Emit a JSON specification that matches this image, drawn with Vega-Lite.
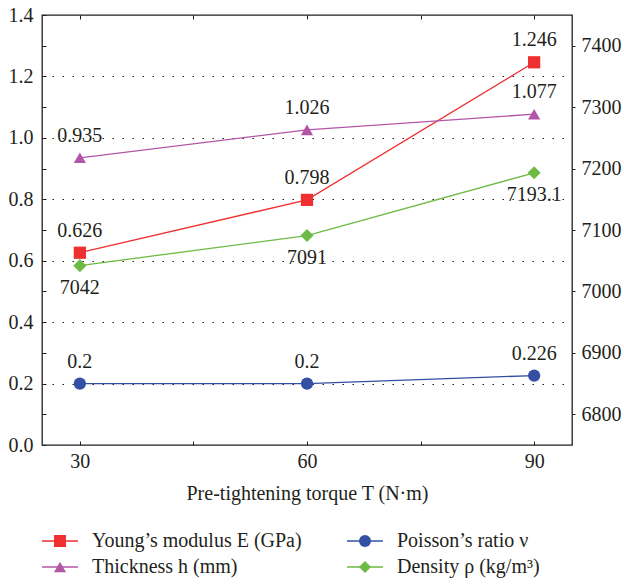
{
  "$schema": "https://vega.github.io/schema/vega-lite/v6.json",
  "width": 530,
  "height": 430,
  "autosize": {"type": "none"},
  "padding": {"left": 42, "top": 15, "right": 52, "bottom": 139},
  "background": "white",
  "config": {
    "font": "Liberation Serif",
    "view": {"stroke": "#231f20", "strokeWidth": 1.3},
    "text": {"font": "Liberation Serif"},
    "axis": {
      "labelFont": "Liberation Serif",
      "labelFontSize": 20,
      "labelColor": "#231f20",
      "titleFont": "Liberation Serif",
      "titleFontSize": 20,
      "titleFontWeight": "normal",
      "titleColor": "#231f20",
      "tickColor": "#231f20",
      "domain": false
    },
    "legend": {
      "labelFont": "Liberation Serif",
      "labelFontSize": 20,
      "labelColor": "#231f20",
      "labelLimit": 400,
      "padding": 0
    }
  },
  "data": {
    "values": [
      {"T": 30, "series": "Young’s modulus E (GPa)", "value": 0.626},
      {"T": 60, "series": "Young’s modulus E (GPa)", "value": 0.798},
      {"T": 90, "series": "Young’s modulus E (GPa)", "value": 1.246},
      {"T": 30, "series": "Thickness h (mm)", "value": 0.935},
      {"T": 60, "series": "Thickness h (mm)", "value": 1.026},
      {"T": 90, "series": "Thickness h (mm)", "value": 1.077},
      {"T": 30, "series": "Poisson’s ratio ν", "value": 0.2},
      {"T": 60, "series": "Poisson’s ratio ν", "value": 0.2},
      {"T": 90, "series": "Poisson’s ratio ν", "value": 0.226},
      {"T": 30, "series": "Density ρ (kg/m³)", "value": 7042},
      {"T": 60, "series": "Density ρ (kg/m³)", "value": 7091},
      {"T": 90, "series": "Density ρ (kg/m³)", "value": 7193.1}
    ]
  },
  "layer": [
    {
      "transform": [{"filter": "datum.series !== 'Density ρ (kg/m³)'"}],
      "encoding": {
        "x": {
          "field": "T", "type": "quantitative",
          "scale": {"domain": [25, 95], "nice": false, "zero": false},
          "axis": {
            "values": [30, 45, 60, 75, 90],
            "labelExpr": "datum.value % 30 == 0 ? datum.label : ''",
            "grid": false,
            "tickSize": -4,
            "labelPadding": 10,
            "title": "Pre-tightening torque T  (N·m)",
            "titlePadding": 12
          }
        },
        "y": {
          "field": "value", "type": "quantitative",
          "scale": {"domain": [0, 1.4], "nice": false, "zero": false},
          "axis": {
            "values": [0, 0.1, 0.2, 0.3, 0.4, 0.5, 0.6, 0.7, 0.8, 0.9, 1.0, 1.1, 1.2, 1.3, 1.4],
            "labelExpr": "round(datum.value*10) % 2 == 0 ? format(datum.value, '.1f') : ''",
            "grid": true,
            "gridColor": "#231f20",
            "gridDash": [1.5, 8.5],
            "gridWidth": 1.2,
            "gridOpacity": {"condition": {"test": "round(datum.value*10) % 2 == 0 && datum.value > 0.05 && datum.value < 1.35", "value": 1}, "value": 0},
            "tickSize": -4,
            "labelPadding": 13,
            "title": null
          }
        }
      },
      "layer": [
        {
          "mark": {"type": "line", "strokeWidth": 1.3},
          "encoding": {
            "color": {
              "field": "series", "type": "nominal",
              "scale": {
                "domain": ["Young’s modulus E (GPa)", "Thickness h (mm)", "Poisson’s ratio ν", "Density ρ (kg/m³)"],
                "range": ["#ee3030", "#b455a8", "#3450a4", "#6dbb45"]
              },
              "legend": {
                "orient": "none", "legendX": -1, "legendY": 516,
                "columns": 2, "title": null,
                "symbolType": "stroke", "symbolSize": 1296, "symbolStrokeWidth": 1.5,
                "labelOffset": 13, "clipHeight": 20, "rowPadding": 6, "columnPadding": 44
              }
            }
          }
        },
        {
          "mark": {"type": "point", "filled": true, "opacity": 1, "size": 150},
          "encoding": {
            "color": {
              "field": "series", "type": "nominal", "legend": null,
              "scale": {
                "domain": ["Young’s modulus E (GPa)", "Thickness h (mm)", "Poisson’s ratio ν", "Density ρ (kg/m³)"],
                "range": ["#ee3030", "#b455a8", "#3450a4", "#6dbb45"]
              }
            },
            "shape": {
              "field": "series", "type": "nominal",
              "scale": {
                "domain": ["Young’s modulus E (GPa)", "Thickness h (mm)", "Poisson’s ratio ν", "Density ρ (kg/m³)"],
                "range": ["square", "triangle-up", "circle", "diamond"]
              },
              "legend": {
                "orient": "none", "legendX": 8, "legendY": 516,
                "columns": 2, "title": null,
                "symbolSize": 144, "symbolStrokeWidth": 0, "symbolOpacity": 1,
                "labelOffset": 22, "labelExpr": "''", "clipHeight": 20, "rowPadding": 6, "columnPadding": 263,
                "encode": {
                  "symbols": {
                    "update": {
                      "fill": {"scale": "color", "field": "value"},
                      "stroke": {"value": "transparent"},
                      "opacity": {"value": 1}
                    }
                  }
                }
              }
            }
          }
        },
        {
          "mark": {"type": "text", "fontSize": 20, "color": "#231f20", "baseline": "middle", "dy": -22},
          "encoding": {"text": {"field": "value", "type": "nominal"}}
        }
      ],
      "resolve": {"legend": {"color": "independent"}}
    },
    {
      "transform": [{"filter": "datum.series === 'Density ρ (kg/m³)'"}],
      "encoding": {
        "x": {
          "field": "T", "type": "quantitative",
          "scale": {"domain": [25, 95], "nice": false, "zero": false},
          "axis": {
            "orient": "top",
            "values": [30, 45, 60, 75, 90],
            "labels": false,
            "grid": false,
            "tickSize": -4,
            "title": null
          }
        },
        "y": {
          "field": "value", "type": "quantitative",
          "scale": {"domain": [6750, 7450], "nice": false, "zero": false},
          "axis": {
            "orient": "right",
            "values": [6800, 6900, 7000, 7100, 7200, 7300, 7400],
            "format": "d",
            "grid": false,
            "tickSize": 3,
            "labelPadding": 6,
            "title": null
          }
        }
      },
      "layer": [
        {
          "mark": {"type": "line", "strokeWidth": 1.3},
          "encoding": {
            "color": {
              "field": "series", "type": "nominal", "legend": null,
              "scale": {
                "domain": ["Young’s modulus E (GPa)", "Thickness h (mm)", "Poisson’s ratio ν", "Density ρ (kg/m³)"],
                "range": ["#ee3030", "#b455a8", "#3450a4", "#6dbb45"]
              }
            }
          }
        },
        {
          "mark": {"type": "point", "filled": true, "opacity": 1, "size": 170},
          "encoding": {
            "color": {
              "field": "series", "type": "nominal", "legend": null,
              "scale": {
                "domain": ["Young’s modulus E (GPa)", "Thickness h (mm)", "Poisson’s ratio ν", "Density ρ (kg/m³)"],
                "range": ["#ee3030", "#b455a8", "#3450a4", "#6dbb45"]
              }
            },
            "shape": {
              "field": "series", "type": "nominal", "legend": null,
              "scale": {
                "domain": ["Young’s modulus E (GPa)", "Thickness h (mm)", "Poisson’s ratio ν", "Density ρ (kg/m³)"],
                "range": ["square", "triangle-up", "circle", "diamond"]
              }
            }
          }
        },
        {
          "mark": {"type": "text", "fontSize": 20, "color": "#231f20", "baseline": "middle", "dy": 22},
          "encoding": {"text": {"field": "value", "type": "nominal"}}
        }
      ]
    }
  ],
  "resolve": {"scale": {"y": "independent"}, "axis": {"x": "independent"}}
}
